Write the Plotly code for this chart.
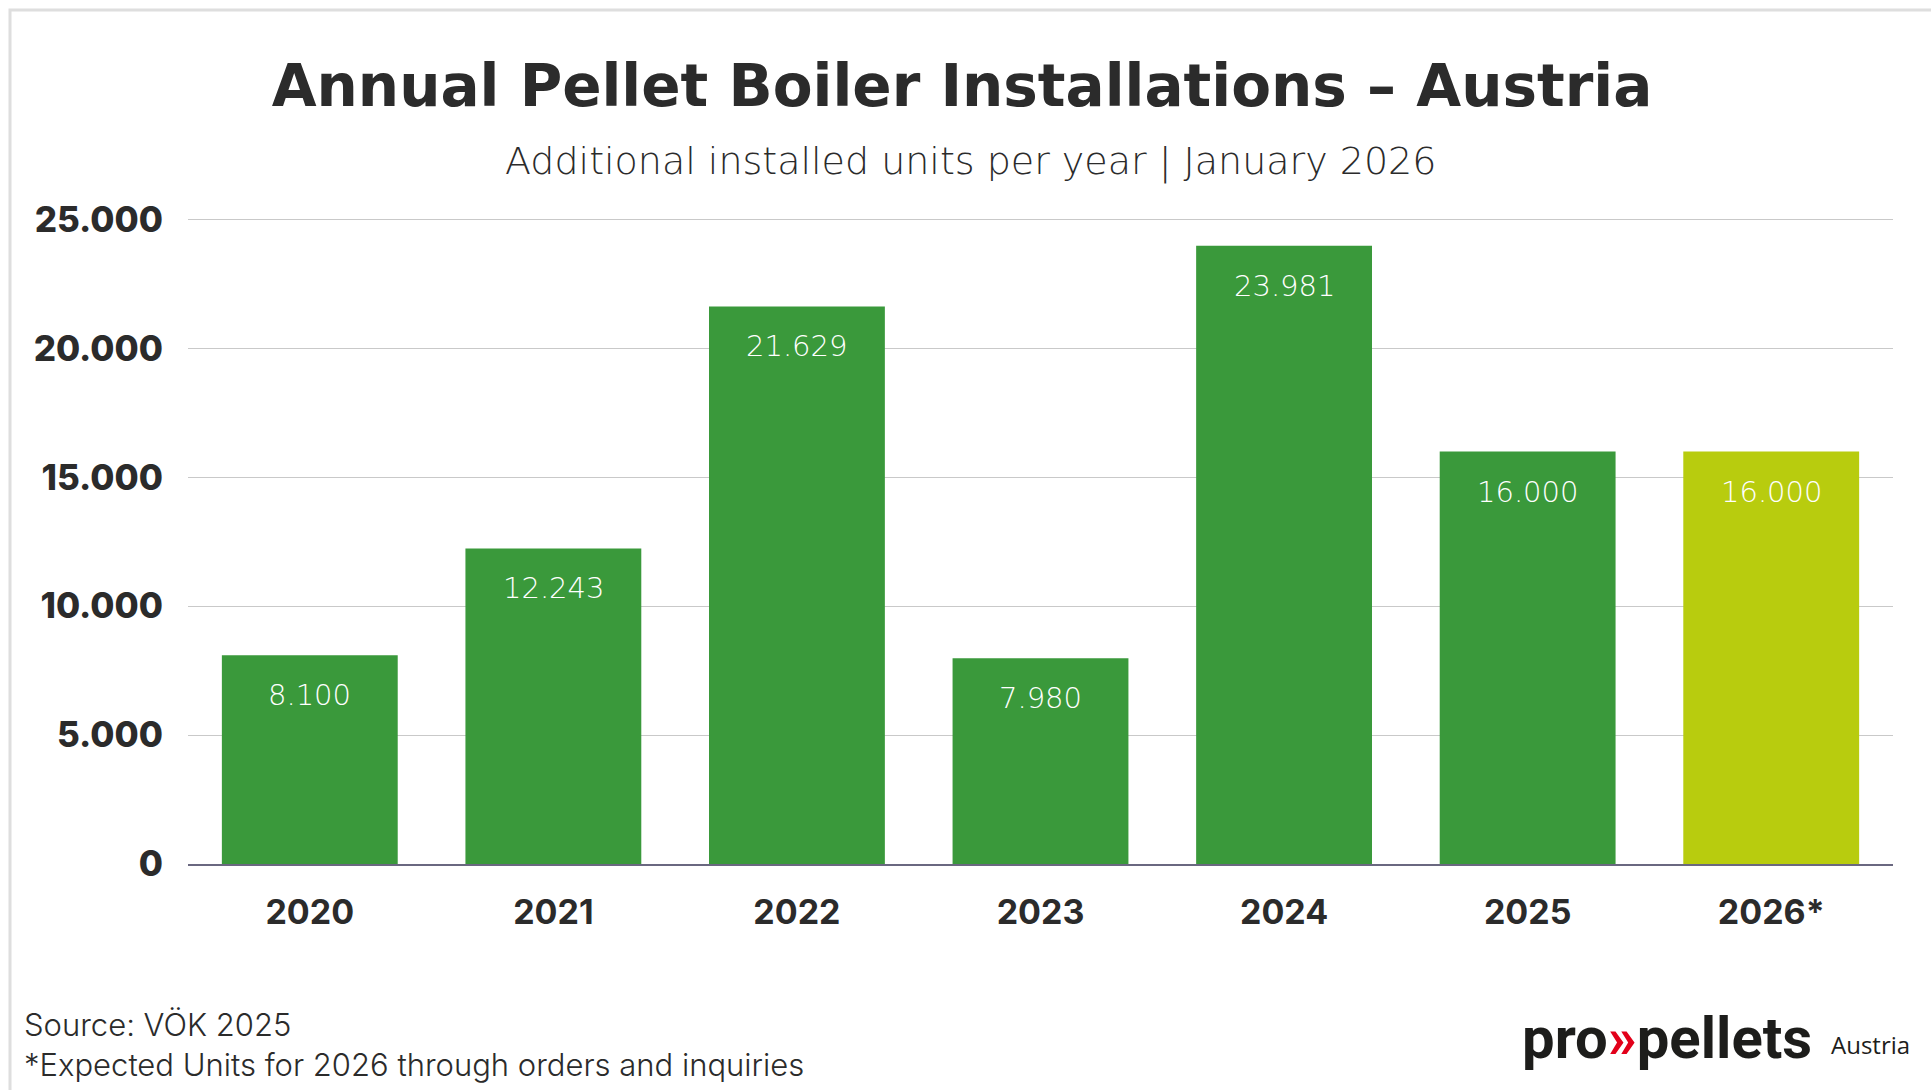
import plotly.graph_objects as go

years = ["2020", "2021", "2022", "2023", "2024", "2025", "2026*"]
units = [8100, 12243, 21629, 7980, 23981, 16000, 16000]
is_forecast = [False, False, False, False, False, False, True]
y_ticks = [0, 5000, 10000, 15000, 20000, 25000]

GREEN = "#3a993b"
LIME = "#b8cc0e"
TEXT = "#2b2b2b"

W, H = 1931, 1090
L, R, T, B = 188, 38, 217, 226
PW, PH = W - L - R, H - T - B


def px2x(px):
    return (px - L) / PW


def py2y(py):
    return (H - B - py) / PH


def fmt(v):
    return f"{v:,}".replace(",", ".")


fig = go.Figure()
fig.add_trace(go.Bar(
    x=years,
    y=units,
    marker=dict(color=[LIME if f else GREEN for f in is_forecast], line=dict(width=0)),
    hoverinfo="skip",
))

annotations = []
for i, v in enumerate(units):
    # category index (numeric) so that year-like labels are not read as numbers
    annotations.append(dict(
        x=i, y=v, xref="x", yref="y", text=fmt(v), showarrow=False,
        yanchor="middle", yshift=-40,
        font=dict(family="DejaVu Sans", size=29, color="white", weight=200),
    ))

annotations += [
    dict(x=px2x(970), y=py2y(161), xref="paper", yref="paper",
         text="Additional installed units per year | January 2026", showarrow=False,
         xanchor="center", yanchor="middle",
         font=dict(family="DejaVu Sans", size=38, color=TEXT, weight=200)),
    dict(x=px2x(22), y=py2y(1044), xref="paper", yref="paper",
         text="Source: VÖK 2025<br>*Expected Units for 2026 through orders and inquiries",
         showarrow=False, xanchor="left", yanchor="middle", align="left",
         font=dict(family="Inter", size=31, color=TEXT, weight=300)),
    dict(x=px2x(1520), y=py2y(1038), xref="paper", yref="paper",
         text="pro<span style='color:#e2001a'>»</span>pellets", showarrow=False,
         xanchor="left", yanchor="middle",
         font=dict(family="Roboto", size=58, color="#1d1d1b", weight=700)),
    dict(x=px2x(1912), y=py2y(1044), xref="paper", yref="paper",
         text="Austria", showarrow=False, xanchor="right", yanchor="middle",
         font=dict(family="Open Sans", size=24, color="#1d1d1b")),
]

fig.update_layout(
    width=W, height=H,
    margin=dict(l=L, r=R, t=T, b=B, pad=0),
    paper_bgcolor="white", plot_bgcolor="white",
    separators=",.",
    bargap=0.278,
    showlegend=False,
    title=dict(
        text="<b>Annual Pellet Boiler Installations – Austria</b>",
        x=962 / W, xanchor="center", xref="container",
        y=1 - 86 / H, yanchor="middle",
        font=dict(family="DejaVu Sans", size=58, color=TEXT),
    ),
    annotations=annotations,
    shapes=[dict(type="rect", xref="paper", yref="paper",
                 x0=px2x(10), x1=px2x(1940), y0=py2y(1100), y1=py2y(10),
                 line=dict(color="#dedede", width=3), layer="below")],
)

fig.update_xaxes(
    type="category", categoryorder="array", categoryarray=years,
    range=[-0.5, len(years) - 0.5], autorange=False,
    showline=True, linecolor="#6a6880", linewidth=2,
    showgrid=False, ticks="", ticklabelstandoff=17,
    tickfont=dict(family="Inter", size=34, color=TEXT, weight=700),
)
fig.update_yaxes(
    range=[0, 25100], autorange=False, tickvals=y_ticks, tickformat=",d",
    showgrid=True, gridcolor="#c9c9c9", gridwidth=1,
    zeroline=False, showline=False, ticks="", ticklabelstandoff=24,
    tickfont=dict(family="Inter", size=35, color=TEXT, weight=800),
)

fig.write_html("out.html", config={"displayModeBar": False},
               post_script="document.body.style.margin='0';")
